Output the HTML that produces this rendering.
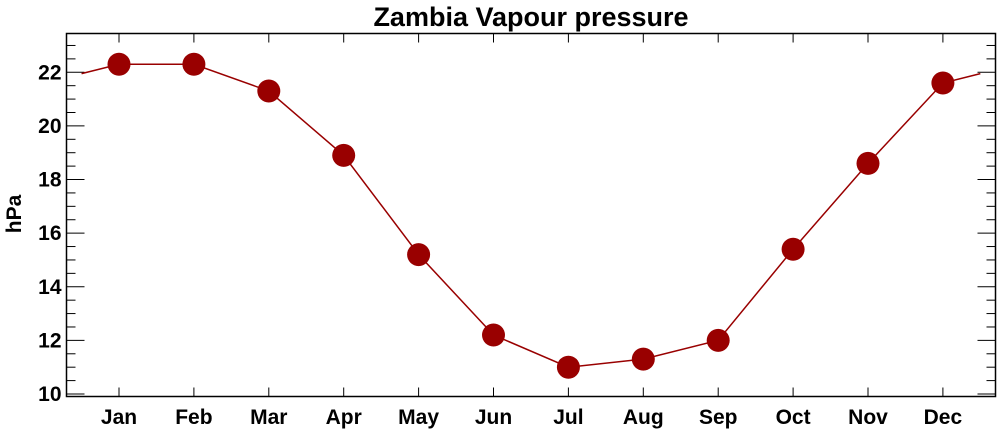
<!DOCTYPE html>
<html><head><meta charset="utf-8"><style>
body{margin:0;background:#fff;}
svg{display:block;font-family:"Liberation Sans",Arial,sans-serif;font-weight:bold;}
</style></head><body>
<svg id="chart" width="1000" height="432" viewBox="0 0 1000 432" xmlns="http://www.w3.org/2000/svg">
<text x="531" y="26" font-size="27" text-anchor="middle">Zambia Vapour pressure</text>
<text transform="translate(21,214) rotate(-90)" font-size="21" text-anchor="middle">hPa</text>
<g id="plot"></g>
</svg>
<script>
const months = ["Jan","Feb","Mar","Apr","May","Jun","Jul","Aug","Sep","Oct","Nov","Dec"];
const values = [22.3,22.3,21.3,18.9,15.2,12.2,11.0,11.3,12.0,15.4,18.6,21.6];
const yTicks = [10,12,14,16,18,20,22];
const L=66.5,R=995.5,T=33.5,B=396.5;
const x0=119,dx=74.9;
const xs=i=>x0+i*dx;
const ys=v=>394-(v-10)*26.81;
const NS="http://www.w3.org/2000/svg";
const g=document.getElementById('plot');
function mk(t,a){const e=document.createElementNS(NS,t);for(const k in a)e.setAttribute(k,a[k]);g.appendChild(e);return e;}
const frame=mk('rect',{x:L,y:T,width:R-L,height:B-T,fill:'none',stroke:'#000','stroke-width':1.5});


for(let v=10;v<=23.25;v+=0.5){
  const major=Math.abs(v-Math.round(v/2)*2)<1e-6;
  const len=major?18:9,y=ys(v);
  const a=mk('line',{x1:L,x2:L+len,y1:y,y2:y,stroke:'#000','stroke-width':1});
  
  
  const b=mk('line',{x1:R,x2:R-len,y1:y,y2:y,stroke:'#000','stroke-width':1});
  
  
}
yTicks.forEach(v=>{
  const t=mk('text',{x:L-5,y:ys(v)+7,'font-size':21,'text-anchor':'end'});
  t.textContent=v;
  
  
});
months.forEach((m,i)=>{
  const a=mk('line',{x1:xs(i),x2:xs(i),y1:B,y2:B-9,stroke:'#000','stroke-width':1});
  
  
  const b=mk('line',{x1:xs(i),x2:xs(i),y1:T,y2:T+9,stroke:'#000','stroke-width':1});
  
  
  const t=mk('text',{x:xs(i),y:424,'font-size':21,'text-anchor':'middle'});
  t.textContent=m;
  
  
});
const n=values.length;
const edge=(values[0]+values[n-1])/2;
let pts=[[xs(-0.5),ys(edge)]];
values.forEach((v,i)=>pts.push([xs(i),ys(v)]));
pts.push([xs(n-0.5),ys(edge)]);
const line=mk('polyline',{points:pts.map(p=>p.join(',')).join(' '),fill:'none',stroke:'#990000','stroke-width':1.5});


values.forEach((v,i)=>{
  const c=mk('circle',{cx:xs(i),cy:ys(v),r:11.5,fill:'#990000'});
  
  
});
</script>
</body></html>
